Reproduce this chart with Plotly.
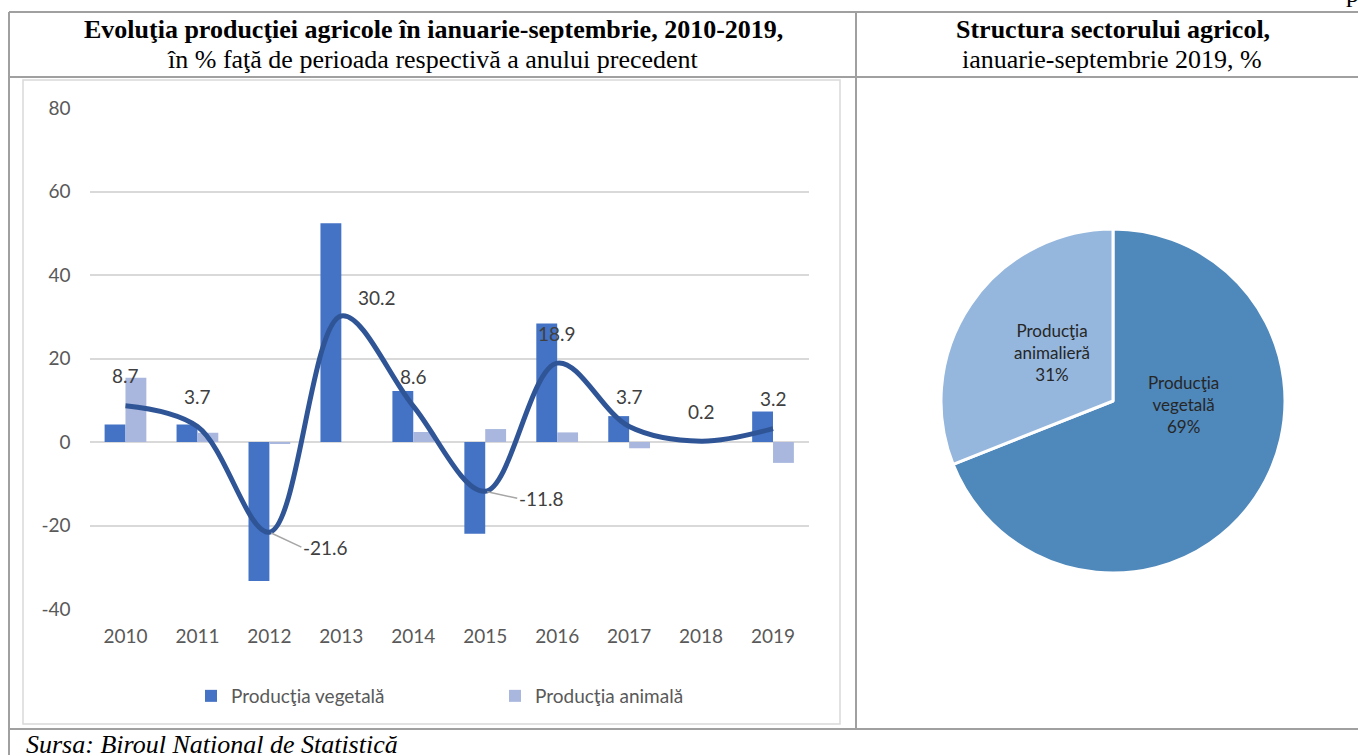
import plotly.graph_objects as go

# ---------------- data ----------------
years = ["2010", "2011", "2012", "2013", "2014", "2015", "2016", "2017", "2018", "2019"]
veg = [4.2, 4.2, -33.3, 52.4, 12.2, -22.0, 28.4, 6.2, 0.0, 7.3]        # Producţia vegetală
anim = [15.4, 2.2, -0.3, 0.0, 2.4, 3.1, 2.3, -1.5, 0.0, -5.0]          # Producţia animală
total = [8.7, 3.7, -21.6, 30.2, 8.6, -11.8, 18.9, 3.7, 0.2, 3.2]        # total agricultural production
yticks = [-40, -20, 0, 20, 40, 60, 80]

pie_labels = ["Producţia<br>vegetală", "Producţia<br>animalieră"]
pie_values = [69, 31]

# ---------------- style ----------------
W, H = 1358, 755
def px(x): return x / W
def py(y): return 1 - y / H

C_VEG = "#4472C4"
C_ANIM = "#A9B7DE"
C_LINE = "#2F5597"
C_TXT = "#595959"
C_LBL = "#404040"
C_GRID = "#D9D9D9"
C_TAB = "#A0A0A0"
SANS = "Lato"
SERIF = "Liberation Serif"

xpos = list(range(len(years)))  # category positions on the axis

# label offsets (pixels) for the line data labels: (xshift, yshift, leader)
lbl_style = [(0, 30, None), (0, 30, None), (None, None, (32, 15)), (36, 18, None), (0, 30, None),
             (None, None, (32, 7)), (0, 30, None), (0, 30, None), (0, 30, None), (0, 30, None)]
# pie label centres (pixels)
pie_lbl_pos = [(1183, 404), (1052, 352)]

fig = go.Figure()

fig.add_trace(go.Bar(x=xpos, y=veg, name="Producţia vegetală", marker_color=C_VEG,
                     marker_line_width=0, xaxis="x", yaxis="y"))
fig.add_trace(go.Bar(x=xpos, y=anim, name="Producţia animală", marker_color=C_ANIM,
                     marker_line_width=0, xaxis="x", yaxis="y"))
fig.add_trace(go.Scatter(x=xpos, y=total, mode="lines",
                         line=dict(color=C_LINE, width=5, shape="spline", smoothing=1.0),
                         showlegend=False, xaxis="x", yaxis="y", hoverinfo="skip"))

fig.add_trace(go.Pie(labels=pie_labels, values=pie_values, sort=False, direction="clockwise", rotation=0,
                     marker=dict(colors=["#4F88BB", "#95B7DD"], line=dict(color="white", width=3)),
                     textinfo="none",
                     domain=dict(x=[px(941), px(1285)], y=[py(573), py(229)]),
                     showlegend=False, hoverinfo="skip"))

annotations = []
for i, v in enumerate(total):
    xs, ys, leader = lbl_style[i]
    if leader is None:
        annotations.append(dict(x=xpos[i], y=v, xref="x", yref="y", text=f"{v:.1f}", showarrow=False,
                                xanchor="center", yanchor="middle",
                                xshift=xs, yshift=ys, font=dict(family=SANS, size=19, color=C_LBL)))
    else:
        annotations.append(dict(x=xpos[i], y=v, xref="x", yref="y", text=f"{v:.1f}", showarrow=True,
                                ax=leader[0], ay=leader[1], xanchor="left", yanchor="middle", arrowhead=0,
                                arrowcolor="#A6A6A6", arrowwidth=1.5, standoff=2,
                                font=dict(family=SANS, size=19, color=C_LBL)))

for (lx, ly), lab, val in zip(pie_lbl_pos, pie_labels, pie_values):
    annotations.append(dict(x=px(lx), y=py(ly), xref="paper", yref="paper", showarrow=False,
                            text=f"{lab}<br>{val}%", xanchor="center", yanchor="middle", align="center",
                            font=dict(family=SANS, size=17, color="#262626")))

def txt(x, y, s, size=26, anchor="center"):
    return dict(x=px(x), y=py(y), xref="paper", yref="paper", showarrow=False, text=s,
                xanchor=anchor, yanchor="middle", font=dict(family=SERIF, size=size, color="black"))

annotations += [
    txt(434, 29, "<b>Evoluţia producţiei agricole în ianuarie-septembrie, 2010-2019,</b>"),
    txt(433, 60, "în % faţă de perioada respectivă a anului precedent"),
    txt(1113, 29, "<b>Structura sectorului agricol,</b>"),
    txt(1112, 60, "ianuarie-septembrie 2019, %"),
    txt(24, 744, "<i>Sursa: Biroul National de Statistică</i>", anchor="left"),
    txt(1352, -6, "p"),
]

def hline(y, x0, x1, color=C_TAB, w=2):
    return dict(type="line", xref="paper", yref="paper", x0=px(x0), x1=px(x1), y0=py(y), y1=py(y),
                line=dict(color=color, width=w))

def vline(x, y0, y1, color=C_TAB, w=2):
    return dict(type="line", xref="paper", yref="paper", x0=px(x), x1=px(x), y0=py(y0), y1=py(y1),
                line=dict(color=color, width=w))

shapes = [
    hline(12, 9, 1358), hline(77, 9, 1358), hline(729, 9, 1358),
    vline(9, 12, 755), vline(856, 12, 729),
    dict(type="rect", xref="paper", yref="paper", x0=px(23), x1=px(840), y0=py(724), y1=py(80),
         line=dict(color=C_GRID, width=1.5), layer="below"),
]

fig.update_layout(
    width=W, height=H, margin=dict(l=0, r=0, t=0, b=0, autoexpand=False),
    paper_bgcolor="white", plot_bgcolor="white",
    barmode="group", bargap=0.42, bargroupgap=0,
    xaxis=dict(domain=[px(89.5), px(809)], range=[-0.5, len(years) - 0.5], tickvals=xpos, ticktext=years,
               showgrid=False, zeroline=False, automargin=False,
               showline=False, ticks="", tickfont=dict(family=SANS, size=19, color=C_TXT),
               ticklabelstandoff=14, fixedrange=True),
    yaxis=dict(domain=[py(609), py(108)], range=[-40, 80], tickvals=yticks,
               ticktext=[str(t) for t in yticks], showgrid=True, automargin=False,
               gridcolor=C_GRID, gridwidth=1.5, zeroline=True, zerolinecolor=C_GRID, zerolinewidth=1.5,
               showline=False, ticks="", tickfont=dict(family=SANS, size=19, color=C_TXT),
               ticklabelstandoff=18, fixedrange=True),
    legend=dict(orientation="h", x=px(191), y=py(696), xanchor="left", yanchor="middle",
                entrywidth=259, font=dict(family=SANS, size=19, color=C_TXT), bgcolor="rgba(0,0,0,0)"),
    annotations=annotations, shapes=shapes,
)

fig.write_html("out.html", config={"displayModeBar": False},
               post_script="document.body.style.margin='0px';")
